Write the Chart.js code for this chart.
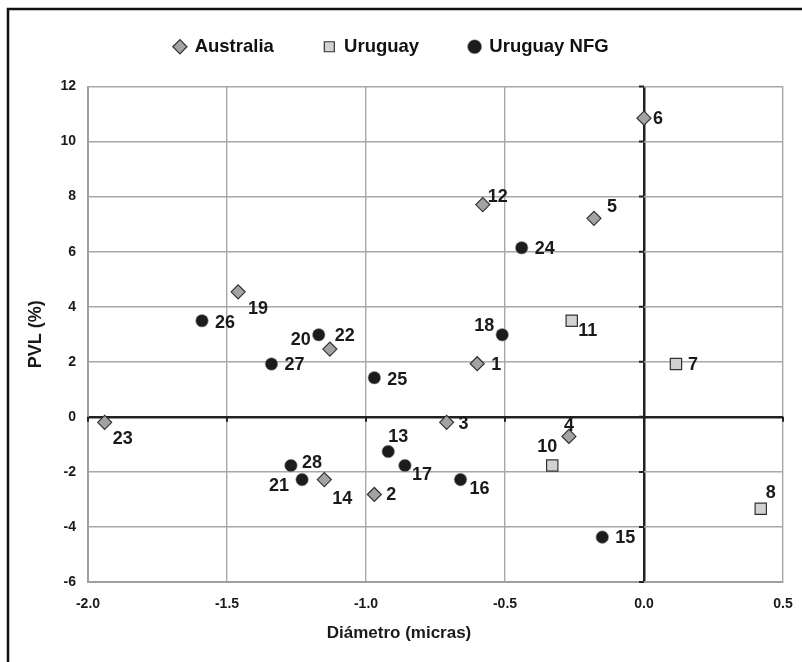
<!DOCTYPE html>
<html>
<head>
<meta charset="utf-8">
<script src="https://cdn.jsdelivr.net/npm/chart.js@4.4.1/dist/chart.umd.min.js"></script>
<style>
  html, body { margin: 0; padding: 0; background: #fff; }
  #wrap { width: 802px; height: 662px; position: relative; }
</style>
</head>
<body>
<div id="wrap"><canvas id="c" width="802" height="662"></canvas></div>
<script>
// ---- Data ----
const ausIds = [1, 2, 3, 4, 5, 6, 12, 14, 19, 22, 23];
const ausX   = [-0.60, -0.97, -0.71, -0.27, -0.18, 0.00, -0.58, -1.15, -1.46, -1.13, -1.94];
const ausY   = [1.93, -2.82, -0.20, -0.71, 7.21, 10.85, 7.71, -2.28, 4.54, 2.46, -0.20];

const uyIds = [7, 8, 10, 11];
const uyX   = [0.115, 0.42, -0.33, -0.26];
const uyY   = [1.92, -3.34, -1.77, 3.49];

const nfgIds = [13, 15, 16, 17, 18, 20, 21, 24, 25, 26, 27, 28];
const nfgX   = [-0.92, -0.15, -0.66, -0.86, -0.51, -1.17, -1.23, -0.44, -0.97, -1.59, -1.34, -1.27];
const nfgY   = [-1.26, -4.37, -2.28, -1.77, 2.98, 2.98, -2.28, 6.14, 1.42, 3.49, 1.92, -1.77];

const seriesNames = ['Australia', 'Uruguay', 'Uruguay NFG'];
const xTicks = [-2.0, -1.5, -1.0, -0.5, 0.0, 0.5];
const yTicks = [-6, -4, -2, 0, 2, 4, 6, 8, 10, 12];
const xTitle = 'Diámetro (micras)';
const yTitle = 'PVL (%)';

// ---- Label placement (style only: pixel offsets from each marker) ----
const labelOffset = {
  1: [19, 0], 2: [17, 0], 3: [17, 1], 4: [0, -11], 5: [18, -12], 6: [14, 0],
  7: [17, 0], 8: [10, -17], 10: [-5, -20], 11: [16, 9], 12: [15, -9],
  13: [10, -15], 14: [18, 18], 15: [23, 0], 16: [19, 8], 17: [17, 8],
  18: [-18, -10], 19: [20, 16], 20: [-18, 4], 21: [-23, 5], 22: [15, -14],
  23: [18, 16], 24: [23, 0], 25: [23, 1], 26: [23, 1], 27: [23, 0], 28: [21, -4]
};

function pts(xs, ys, ids) { return xs.map((x, i) => ({ x: x, y: ys[i], id: ids[i] })); }

const FONT = "'Liberation Sans', Arial, sans-serif";

const frame = {
  id: 'frame',
  beforeDraw(chart) {
    const ctx = chart.ctx;
    ctx.save();
    ctx.strokeStyle = '#111';
    ctx.lineWidth = 2.5;
    ctx.strokeRect(8, 9, 820, 680);
    ctx.restore();
  },
  afterDraw(chart) {
    // x-axis title, placed as in the reference (left of the plot centre)
    const ctx = chart.ctx;
    ctx.save();
    ctx.font = 'bold 17px ' + FONT;
    ctx.fillStyle = '#1a1a1a';
    ctx.textAlign = 'center';
    ctx.textBaseline = 'middle';
    ctx.fillText(xTitle, 399, 633);
    ctx.restore();
  }
};

const zeroTicks = {
  id: 'zeroTicks',
  beforeDatasetsDraw(chart) {
    const ctx = chart.ctx, xs = chart.scales.x, ys = chart.scales.y;
    const x0 = xs.getPixelForValue(0), y0 = ys.getPixelForValue(0);
    ctx.save();
    ctx.strokeStyle = '#222';
    ctx.lineWidth = 2;
    ctx.beginPath();
    yTicks.forEach(v => { const p = ys.getPixelForValue(v); ctx.moveTo(x0 - 5, p); ctx.lineTo(x0, p); });
    xTicks.forEach(v => { const p = xs.getPixelForValue(v); ctx.moveTo(p, y0); ctx.lineTo(p, y0 + 5); });
    ctx.stroke();
    ctx.restore();
  }
};

const pointLabels = {
  id: 'pointLabels',
  afterDatasetsDraw(chart) {
    const ctx = chart.ctx;
    ctx.save();
    ctx.font = 'bold 18px ' + FONT;
    ctx.fillStyle = '#1a1a1a';
    ctx.textAlign = 'center';
    ctx.textBaseline = 'middle';
    chart.data.datasets.forEach((ds, di) => {
      const meta = chart.getDatasetMeta(di);
      meta.data.forEach((el, i) => {
        const id = ds.data[i].id;
        const off = labelOffset[id] || [18, 0];
        ctx.fillText(String(id), el.x + off[0], el.y + off[1] + 1);
      });
    });
    ctx.restore();
  }
};

new Chart(document.getElementById('c'), {
  type: 'scatter',
  data: {
    datasets: [
      {
        label: seriesNames[0], data: pts(ausX, ausY, ausIds),
        pointStyle: 'rectRot', pointRadius: 7, pointHoverRadius: 7,
        backgroundColor: '#a3a3a3', borderColor: '#333', borderWidth: 1.2
      },
      {
        label: seriesNames[1], data: pts(uyX, uyY, uyIds),
        pointStyle: 'rect', pointRadius: 8, pointHoverRadius: 8,
        backgroundColor: '#d2d2d2', borderColor: '#333', borderWidth: 1.2
      },
      {
        label: seriesNames[2], data: pts(nfgX, nfgY, nfgIds),
        pointStyle: 'circle', pointRadius: 6.3, pointHoverRadius: 6.3,
        backgroundColor: '#1c1c1c', borderColor: '#9a9a9a', borderWidth: 0.6
      }
    ]
  },
  options: {
    responsive: false,
    animation: false,
    events: [],
    layout: { padding: { top: -12.5, left: 0, right: 19, bottom: 0 } },
    plugins: {
      tooltip: { enabled: false },
      legend: {
        position: 'top',
        labels: {
          usePointStyle: true,
          boxWidth: 11, boxHeight: 10,
          padding: 50,
          color: '#111',
          font: { family: FONT, size: 18.5, weight: 'bold' }
        }
      },
      subtitle: {
        display: true, text: '', weight: 500,
        font: { size: 10, lineHeight: 1 },
        padding: { top: 10.5, bottom: 0 }
      }
    },
    scales: {
      x: {
        type: 'linear', min: -2, max: 0.5,
        afterBuildTicks(s) { s.ticks = xTicks.map(v => ({ value: v })); },
        afterFit(s) { s.height = 80; s.paddingLeft = 0; s.paddingRight = 0; },
        grid: {
          drawTicks: false,
          color: c => (c.tick && c.tick.value === 0) ? '#222' : '#a8a8a8',
          lineWidth: c => (c.tick && c.tick.value === 0) ? 2.5 : 1.4
        },
        border: { display: true, color: '#a0a0a0', width: 2 },
        ticks: {
          padding: 14, color: '#1a1a1a',
          font: { family: FONT, size: 14, weight: 'bold' },
          callback: v => v.toFixed(1)
        },
        title: { display: false }
      },
      y: {
        type: 'linear', min: -6, max: 12,
        afterBuildTicks(s) { s.ticks = yTicks.map(v => ({ value: v })); },
        afterFit(s) { s.width = 88; },
        grid: {
          drawTicks: false,
          color: c => (c.tick && c.tick.value === 0) ? '#222' : '#a8a8a8',
          lineWidth: c => (c.tick && c.tick.value === 0) ? 2.5 : 1.4
        },
        border: { display: true, color: '#a0a0a0', width: 2 },
        ticks: {
          padding: 12, color: '#1a1a1a',
          font: { family: FONT, size: 14, weight: 'bold' },
          callback: v => String(v)
        },
        title: {
          display: true, text: yTitle, color: '#1a1a1a',
          font: { family: FONT, size: 18, weight: 'bold' },
          padding: { top: 25, bottom: 0 }
        }
      }
    }
  },
  plugins: [frame, zeroTicks, pointLabels]
});
</script>
</body>
</html>
